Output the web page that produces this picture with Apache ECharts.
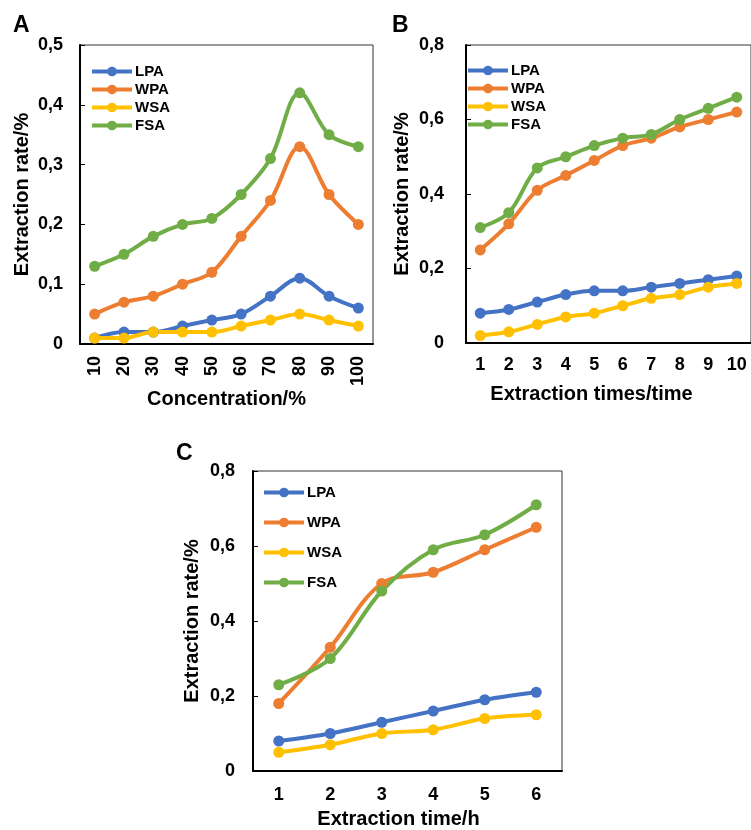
<!DOCTYPE html>
<html>
<head>
<meta charset="utf-8">
<script src="https://cdn.jsdelivr.net/npm/echarts@6/dist/echarts.min.js"></script>
<style>
html,body{margin:0;padding:0;background:#fff;}
#chart{width:751px;height:830px;}
</style>
</head>
<body>
<div id="chart"></div>
<script>
// ---- Data ----
const seriesNames = ['LPA', 'WPA', 'WSA', 'FSA'];
const colors = ['#4472C4', '#ED7D31', '#FFC000', '#70AD47'];

const catA = ['10', '20', '30', '40', '50', '60', '70', '80', '90', '100'];
const lpaA = [0.01, 0.02, 0.02, 0.03, 0.04, 0.05, 0.08, 0.11, 0.08, 0.06];
const wpaA = [0.05, 0.07, 0.08, 0.10, 0.12, 0.18, 0.24, 0.33, 0.25, 0.20];
const wsaA = [0.01, 0.01, 0.02, 0.02, 0.02, 0.03, 0.04, 0.05, 0.04, 0.03];
const fsaA = [0.13, 0.15, 0.18, 0.20, 0.21, 0.25, 0.31, 0.42, 0.35, 0.33];

const catB = ['1', '2', '3', '4', '5', '6', '7', '8', '9', '10'];
const lpaB = [0.08, 0.09, 0.11, 0.13, 0.14, 0.14, 0.15, 0.16, 0.17, 0.18];
const wpaB = [0.25, 0.32, 0.41, 0.45, 0.49, 0.53, 0.55, 0.58, 0.60, 0.62];
const wsaB = [0.02, 0.03, 0.05, 0.07, 0.08, 0.10, 0.12, 0.13, 0.15, 0.16];
const fsaB = [0.31, 0.35, 0.47, 0.50, 0.53, 0.55, 0.56, 0.60, 0.63, 0.66];

const catC = ['1', '2', '3', '4', '5', '6'];
const lpaC = [0.08, 0.10, 0.13, 0.16, 0.19, 0.21];
const wpaC = [0.18, 0.33, 0.50, 0.53, 0.59, 0.65];
const wsaC = [0.05, 0.07, 0.10, 0.11, 0.14, 0.15];
const fsaC = [0.23, 0.30, 0.48, 0.59, 0.63, 0.71];

const xTitles = ['Concentration/%', 'Extraction times/time', 'Extraction time/h'];
const yTitle = 'Extraction rate/%';
const panelLetters = ['A', 'B', 'C'];

// ---- Build option ----
const FONT = 'Liberation Sans, Arial, sans-serif';
const fmt = v => v === 0 ? '0' : v.toFixed(1).replace('.', ',');

const grids = [
  {left: 80, top: 45, width: 293, height: 299},
  {left: 466, top: 45, width: 288, height: 298},
  {left: 253, top: 471, width: 309, height: 301}
];
const cats = [catA, catB, catC];
const data = [
  [lpaA, wpaA, wsaA, fsaA],
  [lpaB, wpaB, wsaB, fsaB],
  [lpaC, wpaC, wsaC, fsaC]
];
const yMax = [0.5, 0.8, 0.8];
const yInt = [0.1, 0.2, 0.2];
const yLabelMargin = [17, 22, 18];
const yNameGap = [48, 54, 51];
const xNameGap = [41, 41, 38];
const xNamePad = [[0,0,0,0], [0,34,0,0], [0,18,0,0]];
const xLabelRotate = [90, 0, 0];
const xLabelMargin = [12, 13, 15];
const legendPos = [
  {left: 90, top: 64, itemGap: 3},
  {left: 466, top: 63, itemGap: 3},
  {left: 262, top: 485, itemGap: 15}
];
const letterPos = [[13, 14], [392, 14], [176, 442]];

const option = {
  animation: false,
  backgroundColor: '#fff',
  textStyle: {fontFamily: FONT},
  grid: grids.map(g => Object.assign({show: true, borderColor: '#333', borderWidth: 1, backgroundColor: 'transparent'}, g)),
  xAxis: grids.map((g, i) => ({
    type: 'category',
    gridIndex: i,
    data: cats[i],
    boundaryGap: true,
    name: xTitles[i],
    nameLocation: 'middle',
    nameGap: xNameGap[i],
    nameTextStyle: {fontSize: 20, fontWeight: 'bold', color: '#000', fontFamily: FONT, padding: xNamePad[i]},
    axisLine: {lineStyle: {color: '#000', width: 2}},
    axisTick: {inside: true, length: 5, lineStyle: {color: '#000', width: 1}},
    axisLabel: {fontSize: 18, fontWeight: 'bold', color: '#000', fontFamily: FONT, rotate: xLabelRotate[i], margin: xLabelMargin[i], interval: 0},
    splitLine: {show: false}
  })),
  yAxis: grids.map((g, i) => ({
    type: 'value',
    gridIndex: i,
    min: 0,
    max: yMax[i],
    interval: yInt[i],
    name: yTitle,
    nameLocation: 'middle',
    nameGap: yNameGap[i],
    nameTextStyle: {fontSize: 20, fontWeight: 'bold', color: '#000', fontFamily: FONT},
    axisLine: {show: true, lineStyle: {color: '#000', width: 2}},
    axisTick: {show: true, inside: true, length: 5, lineStyle: {color: '#000', width: 1}},
    axisLabel: {fontSize: 18, fontWeight: 'bold', color: '#000', fontFamily: FONT, margin: yLabelMargin[i], formatter: fmt},
    splitLine: {show: false}
  })),
  legend: grids.map((g, i) => ({
    orient: 'vertical',
    left: legendPos[i].left,
    top: legendPos[i].top,
    itemGap: legendPos[i].itemGap,
    itemWidth: 40,
    itemHeight: 12,
    padding: 0,
    selectedMode: false,
    data: seriesNames,
    lineStyle: {width: 4},
    textStyle: {fontSize: 15, fontWeight: 'bold', color: '#000', fontFamily: FONT, lineHeight: 14, padding: [0,0,0,-2]}
  })),
  series: [],
  graphic: panelLetters.map((t, i) => ({
    type: 'text',
    left: letterPos[i][0],
    top: letterPos[i][1],
    style: {text: t, fontSize: 23, fontWeight: 'bold', fill: '#000', fontFamily: FONT}
  }))
};

data.forEach((set, gi) => {
  set.forEach((vals, si) => {
    option.series.push({
      type: 'line',
      name: seriesNames[si],
      xAxisIndex: gi,
      yAxisIndex: gi,
      data: vals,
      smooth: 0.35,
      symbol: 'circle',
      symbolSize: 11,
      showAllSymbol: true,
      lineStyle: {color: colors[si], width: 4},
      itemStyle: {color: colors[si]},
      clip: false
    });
  });
});

const chart = echarts.init(document.getElementById('chart'), null, {renderer: 'canvas'});
chart.setOption(option);
</script>
</body>
</html>
